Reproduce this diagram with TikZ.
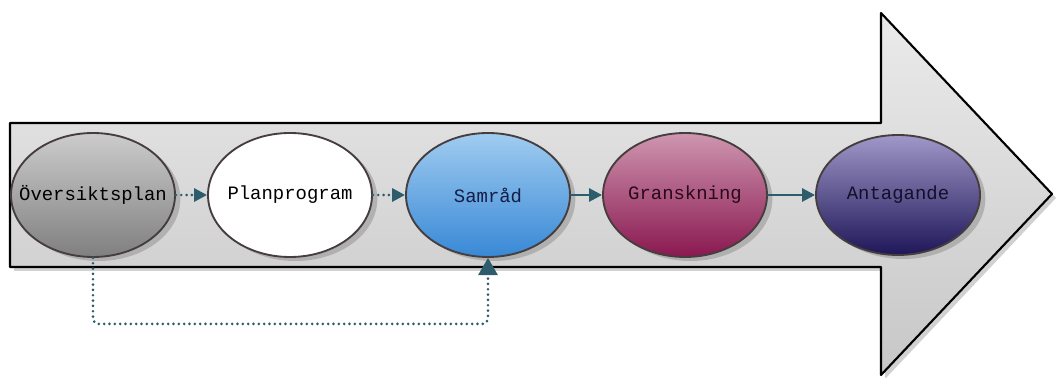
\documentclass[tikz,border=0pt]{standalone}
\usepackage{fontspec}
\setmonofont{Liberation Mono}
\usetikzlibrary{arrows.meta,shapes.geometric,shadows}

\definecolor{linkteal}{RGB}{45,92,108}
\definecolor{rimgray}{RGB}{70,62,62}
\newcommand{\stagelabel}[1]{\makebox[0pt][c]{#1}}

\begin{document}
\begin{tikzpicture}[x=0.75pt,y=0.75pt,>={Triangle[length=3.4mm,width=3.4mm]},line cap=round,line join=round,
  stage/.style={ellipse,draw=rimgray,line width=1.4pt,minimum width=123pt,minimum height=93pt,inner sep=0pt,
    font=\ttfamily\fontsize{14.2}{16}\selectfont,
    drop shadow={shadow xshift=4pt,shadow yshift=-3pt,fill=black!40,opacity=0.6}},
  solidlink/.style={->,draw=linkteal,line width=2pt},
  dotlink/.style={->,draw=linkteal,line width=2.2pt,dash pattern=on 0pt off 4pt}]
\useasboundingbox (0,0) rectangle (1056,378);
% big arrow
\coordinate (bodyTL) at (10,255);
\coordinate (bodyBL) at (10,111);
\coordinate (headT) at (881,365);
\coordinate (headB) at (881,3);
\coordinate (tip) at (1052,184);
\draw[line width=1.6pt,top color=black!8,bottom color=black!22,
  drop shadow={shadow xshift=3pt,shadow yshift=-3pt,fill=black!30,opacity=0.6}]
  (bodyTL) -- (bodyTL -| headT) -- (headT) -- (tip) -- (headB) -- (bodyBL -| headB) -- (bodyBL) -- cycle;
% stages
\node[stage,top color=black!20,bottom color=black!50] (oversikt) at (93,183) {\stagelabel{Översiktsplan}};
\node[stage,fill=white] (planprog) at (290,183) {\stagelabel{Planprogram}};
\node[stage,text={rgb,255:red,20;green,30;blue,70},top color={rgb,255:red,160;green,204;blue,240},bottom color={rgb,255:red,56;green,136;blue,214}] (samrad) at (488,183) {\stagelabel{Samråd}};
\node[stage,text={rgb,255:red,40;green,10;blue,25},top color={rgb,255:red,206;green,150;blue,176},bottom color={rgb,255:red,138;green,24;blue,80}] (gransk) at (685,183) {\stagelabel{Granskning}};
\node[stage,minimum height=90pt,text={rgb,255:red,20;green,15;blue,40},top color={rgb,255:red,160;green,152;blue,200},bottom color={rgb,255:red,30;green,22;blue,88}] (antag) at (898,183) {\stagelabel{Antagande}};
% links
\draw[dotlink] (oversikt) -- (planprog);
\draw[dotlink] (planprog) -- (samrad);
\draw[solidlink] (samrad) -- (gransk);
\draw[solidlink] (gransk) -- (antag);
\draw[dotlink,rounded corners=4pt,-{Triangle[length=4.5mm,width=5mm]}] (oversikt.south) -- ++(0,-66) -| (samrad.south);
\end{tikzpicture}
\end{document}
